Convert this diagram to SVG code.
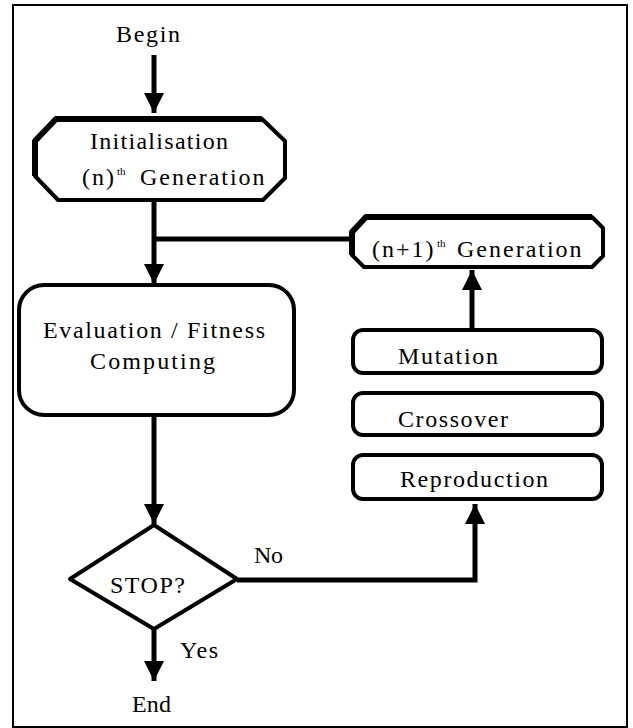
<svg xmlns="http://www.w3.org/2000/svg" width="633" height="728" viewBox="0 0 633 728">
<style>
  text { font-family: "Liberation Serif", "Times New Roman", serif; font-size: 24px; fill: #000; letter-spacing: 2px; }
  .sup { font-size: 11px; letter-spacing: 0px; }
  .shape { fill: #fff; stroke: #000; stroke-width: 4; stroke-linejoin: round; }
  .thick { fill: none; stroke: #000; stroke-width: 6; stroke-linejoin: round; }
  .line { fill: none; stroke: #000; stroke-width: 5; }
</style>
<defs>
  <marker id="ah" viewBox="0 0 20 20" refX="20" refY="10" markerWidth="20" markerHeight="20" markerUnits="userSpaceOnUse" orient="auto">
    <path d="M0,0 L20,10 L0,20 Z" fill="#000"/>
  </marker>
</defs>
<rect x="13" y="5" width="614" height="722" fill="#fff" stroke="#000" stroke-width="2"/>

<g id="connectors">
  <path class="line" d="M154,55 V113" marker-end="url(#ah)"/>
  <path class="line" d="M154,200 V284" marker-end="url(#ah)"/>
  <path class="line" d="M154,239 H352"/>
  <path class="line" d="M154,415 V524" marker-end="url(#ah)"/>
  <path class="line" d="M472,330 V270" marker-end="url(#ah)"/>
  <path class="line" d="M237,580 H475 V504" marker-end="url(#ah)"/>
  <path class="line" d="M154,629 V681" marker-end="url(#ah)"/>
  <text x="254" y="563" textLength="31" lengthAdjust="spacing">No</text>
  <text x="180" y="658" textLength="40" lengthAdjust="spacing">Yes</text>
</g>

<g id="begin">
  <text x="116" y="42" textLength="66" lengthAdjust="spacing">Begin</text>
</g>

<g id="initialisation">
  <path class="shape" d="M56,119 H262 L285,141 V178 L263,200 H58 L35,176 V141 Z"/>
  <path class="thick" d="M35,176 V141 L56,119 H262"/>
  <text x="90" y="149" textLength="140" lengthAdjust="spacing">Initialisation</text>
  <text y="185"><tspan x="82">(n)</tspan><tspan class="sup" x="117" y="175">th</tspan><tspan x="140" y="185">Generation</tspan></text>
</g>

<g id="next-generation">
  <path class="shape" d="M366,217 H592 L603,228 V256 L592,267 H364 L352,255 V232 Z"/>
  <path class="thick" d="M352,255 V232 L366,217 H592"/>
  <text y="257"><tspan x="372">(n+1)</tspan><tspan class="sup" x="437" y="247">th</tspan><tspan x="457" y="257">Generation</tspan></text>
</g>

<g id="evaluation">
  <rect class="shape" x="19" y="285" width="275" height="130" rx="25" ry="25" stroke-width="5"/>
  <text x="43" y="338" textLength="224" lengthAdjust="spacing">Evaluation / Fitness</text>
  <text x="90" y="369" textLength="127" lengthAdjust="spacing">Computing</text>
</g>

<g id="mutation">
  <rect class="shape" x="353" y="330" width="249" height="43" rx="10" ry="10"/>
  <text x="398" y="364" textLength="102" lengthAdjust="spacing">Mutation</text>
</g>

<g id="crossover">
  <rect class="shape" x="353" y="393" width="249" height="42" rx="10" ry="10"/>
  <text x="398" y="427" textLength="112" lengthAdjust="spacing">Crossover</text>
</g>

<g id="reproduction">
  <rect class="shape" x="353" y="455" width="249" height="44" rx="10" ry="10"/>
  <text x="400" y="487" textLength="150" lengthAdjust="spacing">Reproduction</text>
</g>

<g id="stop">
  <path class="shape" d="M154,525 L237,579 L154,629 L70,579 Z" stroke-width="5"/>
  <text x="110" y="593" textLength="77" lengthAdjust="spacing">STOP?</text>
</g>

<g id="end">
  <text x="132" y="712" textLength="41" lengthAdjust="spacing">End</text>
</g>
</svg>
